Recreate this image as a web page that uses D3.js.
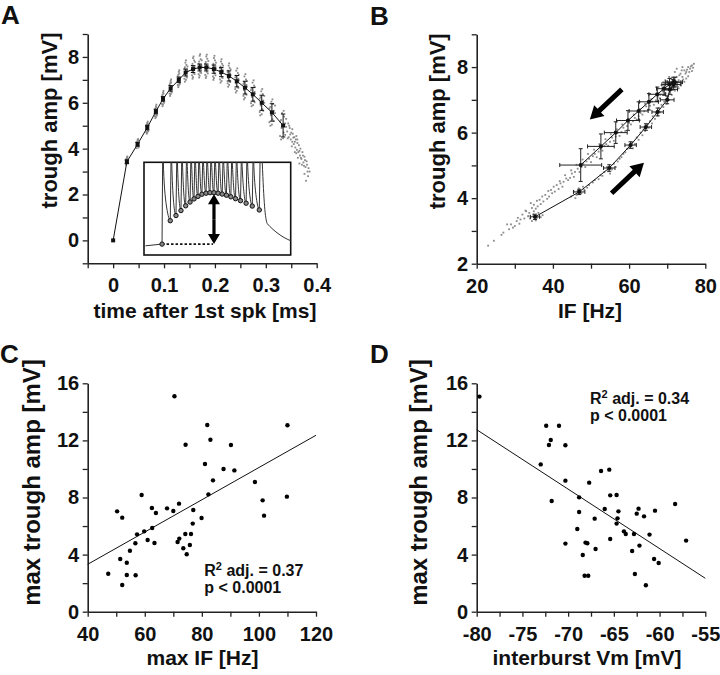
<!DOCTYPE html>
<html><head><meta charset="utf-8">
<script src="https://cdn.jsdelivr.net/npm/d3@7"></script>
<style>
body{margin:0;background:#fff}
svg{display:block}
text{font-family:"Liberation Sans",Arial,Helvetica,sans-serif;font-weight:bold;fill:#111}
</style>
</head><body>
<svg id="chart" width="720" height="675"></svg>
<script>
// ---------------- DATA ----------------
// Panel A / B: mean trough amplitude per trough (time-ordered)
const firstSpikeTime = 0, firstSpikeAmp = 0;
const troughTime = [0.027,0.048,0.067,0.084,0.098,0.113,0.129,0.1425,0.157,0.170,0.183,0.198,0.2125,0.2275,0.243,0.259,0.2745,0.292,0.312,0.334];
const troughAmp  = [3.43,4.19,4.92,5.62,6.17,6.63,7.00,7.32,7.47,7.54,7.54,7.47,7.34,7.17,6.94,6.66,6.37,6.00,5.58,5.01];
const troughAmpErr = [0.08,0.08,0.10,0.10,0.10,0.12,0.12,0.15,0.15,0.15,0.15,0.18,0.20,0.22,0.25,0.28,0.30,0.33,0.38,0.50];
const troughIF   = [35.3,46.9,54.8,60.4,64.4,67.5,70.0,70.7,71.6,72.0,71.6,70.6,69.2,67.4,65.2,62.5,59.7,56.5,52.6,47.3];
const troughIFErr = [1.2,1.5,1.5,1.5,1.5,1.5,1.8,2.0,2.0,2.0,2.0,2.0,2.0,2.2,2.5,2.5,3.0,3.0,3.5,5.5];

// individual cell points (grey clouds), [time, amp]
const cloudA = [
[0.025,3.30],[0.026,3.55],[0.027,3.62],[0.028,3.38],[0.029,3.48],[0.026,3.40],[0.028,3.58],[0.027,3.45],[0.025,3.52],[0.029,3.35],[0.028,3.66],
[0.046,4.02],[0.047,4.30],[0.048,4.38],[0.049,4.10],[0.050,4.25],[0.047,4.12],[0.049,4.35],[0.048,4.18],[0.046,4.28],[0.050,4.05],[0.049,4.42],
[0.065,4.72],[0.066,5.05],[0.067,5.12],[0.068,4.80],[0.069,4.98],[0.066,4.85],[0.068,5.08],[0.067,4.70],[0.067,4.92],[0.065,5.00],[0.069,4.76],[0.068,5.18],[0.066,4.65],
[0.082,5.42],[0.083,5.75],[0.084,5.85],[0.085,5.50],[0.086,5.68],[0.083,5.55],[0.085,5.80],[0.084,5.38],[0.084,5.62],[0.082,5.70],[0.086,5.45],[0.085,5.92],[0.083,5.33],
[0.096,5.95],[0.097,6.35],[0.098,6.45],[0.099,6.05],[0.100,6.25],[0.097,6.10],[0.099,6.40],[0.098,5.92],[0.098,6.18],[0.096,6.28],[0.100,6.00],[0.099,6.52],[0.097,5.85],
[0.111,6.40],[0.112,6.85],[0.113,6.95],[0.114,6.50],[0.115,6.72],[0.112,6.58],[0.114,6.88],[0.113,6.38],[0.113,6.62],[0.111,6.78],[0.115,6.45],[0.114,7.02],[0.112,6.30],
[0.127,6.78],[0.128,7.22],[0.129,7.35],[0.130,6.88],[0.131,7.10],[0.128,6.95],[0.130,7.28],[0.129,6.75],[0.129,7.02],[0.127,7.15],[0.131,6.82],[0.130,7.42],[0.128,6.68],
[0.140,7.05],[0.141,7.55],[0.142,7.75],[0.144,7.15],[0.145,7.45],[0.141,7.25],[0.144,7.65],[0.143,7.00],[0.146,7.38],[0.142,7.32],[0.140,7.48],[0.145,7.10],[0.143,7.85],[0.141,6.92],[0.146,7.58],
[0.155,7.20],[0.156,7.70],[0.157,7.95],[0.158,7.30],[0.160,7.60],[0.156,7.40],[0.159,7.85],[0.157,7.12],[0.161,7.50],[0.157,7.48],[0.155,7.62],[0.160,7.25],[0.158,8.02],[0.156,7.05],[0.161,7.78],
[0.168,7.25],[0.169,7.80],[0.170,8.05],[0.171,7.35],[0.173,7.65],[0.169,7.45],[0.172,7.90],[0.170,7.18],[0.174,7.58],[0.170,7.55],[0.168,7.70],[0.173,7.30],[0.171,8.12],[0.169,7.10],[0.174,7.85],
[0.181,7.22],[0.182,7.78],[0.183,8.02],[0.184,7.35],[0.186,7.62],[0.182,7.45],[0.185,7.92],[0.183,7.15],[0.187,7.55],[0.183,7.55],[0.181,7.70],[0.186,7.28],[0.184,8.10],[0.182,7.08],[0.187,7.82],
[0.196,7.15],[0.197,7.70],[0.198,7.95],[0.199,7.28],[0.201,7.58],[0.197,7.38],[0.200,7.85],[0.198,7.08],[0.202,7.50],[0.198,7.48],[0.196,7.62],[0.201,7.20],[0.199,8.05],[0.197,7.00],[0.202,7.75],
[0.210,7.02],[0.211,7.58],[0.212,7.80],[0.214,7.12],[0.215,7.45],[0.211,7.25],[0.214,7.70],[0.213,6.95],[0.216,7.38],[0.212,7.35],[0.210,7.50],[0.215,7.08],[0.213,7.90],[0.211,6.88],[0.216,7.62],
[0.225,6.85],[0.226,7.40],[0.227,7.62],[0.229,6.95],[0.230,7.28],[0.226,7.08],[0.229,7.52],[0.228,6.78],[0.231,7.20],[0.227,7.18],[0.225,7.32],[0.230,6.90],[0.228,7.72],[0.226,6.70],[0.231,7.45],
[0.240,6.60],[0.241,7.18],[0.242,7.40],[0.244,6.72],[0.246,7.05],[0.241,6.85],[0.245,7.30],[0.243,6.52],[0.247,6.98],[0.243,6.95],[0.240,7.10],[0.246,6.65],[0.244,7.50],[0.241,6.45],[0.247,7.22],
[0.256,6.30],[0.257,6.90],[0.258,7.15],[0.260,6.42],[0.262,6.78],[0.257,6.55],[0.261,7.02],[0.259,6.22],[0.263,6.70],[0.259,6.66],[0.256,6.82],[0.262,6.35],[0.260,7.25],[0.257,6.15],[0.263,6.95],
[0.271,5.98],[0.272,6.62],[0.274,6.88],[0.276,6.10],[0.278,6.48],[0.273,6.25],[0.277,6.75],[0.275,5.90],[0.279,6.40],[0.274,6.38],[0.271,6.55],[0.278,6.02],[0.276,6.98],[0.272,5.85],[0.279,6.68],
[0.288,5.60],[0.290,6.25],[0.291,6.50],[0.293,5.72],[0.295,6.10],[0.290,5.88],[0.294,6.38],[0.292,5.50],[0.297,6.00],[0.292,6.02],[0.288,6.18],[0.295,5.65],[0.293,6.60],[0.289,5.45],[0.297,6.30],
[0.307,5.15],[0.309,5.82],[0.311,6.05],[0.313,5.28],[0.316,5.65],[0.310,5.45],[0.314,5.95],[0.312,5.05],[0.318,5.55],[0.312,5.60],[0.307,5.75],[0.316,5.20],[0.313,6.15],[0.309,5.00],[0.318,5.88],
[0.328,4.55],[0.330,5.25],[0.332,5.55],[0.335,4.70],[0.338,5.10],[0.331,4.90],[0.336,5.40],[0.334,4.45],[0.340,4.95],[0.334,5.02],[0.328,5.18],[0.338,4.60],[0.335,5.65],[0.330,4.40],[0.340,5.30],
[0.342,4.75],[0.344,5.10],[0.345,4.50],[0.347,4.90],[0.349,4.40],[0.350,4.70],[0.352,4.30],[0.353,4.65],[0.355,4.20],
[0.356,4.50],[0.358,4.05],[0.359,4.40],[0.361,3.95],[0.362,4.25],[0.364,3.85],[0.365,4.15],[0.367,3.70],[0.368,4.00],
[0.370,3.55],[0.372,3.85],[0.374,3.40],[0.376,3.65],[0.378,3.20],[0.380,3.45],[0.382,3.00],[0.379,2.60],[0.384,3.15],
[0.371,3.30],[0.363,3.60],[0.357,3.85],
[0.343,4.45],[0.346,5.00],[0.348,4.62],[0.351,4.10],[0.354,4.48],[0.357,4.30],[0.360,3.80],[0.362,4.40],[0.366,3.90],
[0.369,3.60],[0.373,3.70],[0.375,3.25],[0.377,3.50],[0.381,3.30],[0.383,2.80],[0.386,3.00],[0.376,2.90],[0.366,3.35],
[0.352,4.85],[0.360,4.55]
];
// individual points, [IF, amp]
const cloudB = [
[34.0,3.38],[34.8,3.50],[35.5,3.32],[36.2,3.55],[36.8,3.42],[35.0,3.60],[37.3,3.48],[33.6,3.45],[35.8,3.40],[34.5,3.30],
[44.8,4.05],[45.5,4.20],[46.2,4.10],[46.8,4.30],[47.5,4.15],[48.2,4.25],[45.9,4.00],[47.9,4.35],[46.5,4.22],
[49.5,4.40],[51.0,4.55],[52.5,4.70],[53.5,4.80],[54.2,4.95],[55.5,4.88],[56.0,5.05],[55.0,4.75],
[57.5,5.20],[58.5,5.35],[59.5,5.50],[60.8,5.70],[61.5,5.65],[62.0,5.85],[63.0,6.00],[63.8,6.10],[64.8,6.25],[65.5,6.35],
[66.2,6.50],[67.0,6.60],[67.8,6.75],[68.5,6.85],[69.2,6.95],[70.2,7.10],[70.8,7.25],[71.5,7.40],
[49.0,4.32],[50.5,4.48],[52.0,4.58],[53.0,4.68],[54.5,4.82],[56.5,4.95],[57.0,5.12],[58.0,5.25],[59.0,5.40],[60.0,5.55],
[61.0,5.52],[62.5,5.78],[63.5,5.92],[64.2,6.05],[65.2,6.15],[66.0,6.28],[66.8,6.42],[67.5,6.52],[68.2,6.62],[69.0,6.78],
[69.8,6.88],[70.5,7.00],[71.2,7.15],[72.0,7.28],[72.8,7.40],
[23.0,2.55],[26.5,2.88],[28.5,3.05],[29.0,3.20],[30.0,3.15],[30.5,3.30],[31.5,3.35],[32.0,3.50],[33.0,3.60],[33.5,3.45],
[34.5,3.70],[35.0,3.80],[36.0,3.75],[36.5,3.95],[37.5,3.90],[38.0,4.10],[39.0,4.05],[39.5,4.25],[40.5,4.20],[41.0,4.40],
[42.0,4.45],[42.5,4.35],[43.5,4.60],[44.0,4.55],[45.0,4.75],[45.5,4.65],[46.5,4.90],[47.0,4.80],[48.0,5.05],[48.5,4.95],
[49.5,5.20],[50.0,5.10],[51.0,5.35],[51.5,5.25],[52.5,5.50],[53.0,5.45],[54.0,5.65],[54.5,5.60],[55.5,5.85],[56.0,5.75],
[57.0,6.00],[57.5,5.90],[58.5,6.15],[59.0,6.05],[60.0,6.30],[60.5,6.25],[61.5,6.45],[62.0,6.40],[63.0,6.60],[63.5,6.55],
[64.5,6.80],[65.0,6.70],[66.0,6.95],[66.5,6.85],[67.5,7.10],[68.0,7.05],[69.0,7.25],[69.5,7.20],[70.5,7.45],[71.0,7.35],
[24.5,2.70],[27.0,2.95],[28.0,3.20],[29.5,3.10],[30.8,3.40],[31.2,3.22],[32.5,3.38],[32.8,3.62],[33.8,3.55],[34.2,3.85],
[35.5,3.68],[35.8,3.92],[36.8,3.82],[37.2,4.05],[38.5,3.98],[38.8,4.22],[39.8,4.15],[40.2,4.35],[41.5,4.28],[41.8,4.52],
[42.8,4.50],[43.2,4.70],[44.5,4.62],[44.8,4.85],[45.8,4.80],[46.2,5.02],[47.5,4.95],[47.8,5.18],[48.8,5.12],[49.2,5.35],
[50.5,5.28],[50.8,5.48],[52.0,5.42],[52.2,5.65],[53.5,5.60],[53.8,5.80],[55.0,5.72],[55.2,5.95],[56.5,5.88],[56.8,6.10],
[58.0,6.02],[58.2,6.25],[59.5,6.20],[59.8,6.42],[61.0,6.35],[61.2,6.55],[62.5,6.50],[62.8,6.72],[64.0,6.65],[64.2,6.88],
[65.5,6.82],[65.8,7.02],[67.0,6.98],[67.2,7.18],[68.2,7.15],[68.8,7.35],[69.8,7.30],[70.2,7.55],
[70.0,7.55],[71.0,7.65],[72.0,7.50],[72.5,7.70],[73.0,7.60],[73.5,7.80],[74.0,7.70],[74.5,7.90],[75.0,7.85],[75.5,8.00],
[76.0,7.95],[76.5,8.05],[77.0,8.10],[73.5,7.45],[74.5,7.55],[72.0,7.85],[71.5,7.30],[73.0,7.35],[75.0,7.65],[70.5,7.70],
[68.5,7.45],[69.5,7.60],[72.5,7.95],[74.0,8.00],
[71.8,7.60],[72.8,7.55],[73.2,7.75],[74.2,7.62],[74.8,7.80],[75.2,7.92],[75.8,7.85],[76.2,8.02],[76.8,7.98],[73.8,7.90],
[72.2,7.42],[70.8,7.48],[73.8,7.52],[75.5,7.72],[76.5,7.88]
];

// inset (burst trace) – relative time units 0..100, amplitude in mV
const insetTroughT = [17.9,21.8,25.2,28.4,31.4,34.1,36.8,39.5,42.3,45.0,47.7,50.5,53.3,56.2,59.2,62.4,65.8,69.6,73.8,78.6];
const insetBaseline = [[1,-0.25],[12.3,0]];
const insetTail = [[80.6,12],[81.8,6],[82.5,3.8],[84,3.0],[89,1.8],[95,0.9],[100,0.5]];

// Panel C: max IF vs max trough amp
const maxIF = [70.4,81.9,110.0,83.0,74.3,90.2,81.1,87.6,91.4,83.9,98.6,58.9,82.3,109.8,101.3,50.3,62.5,67.8,72.0,70.0,63.9,77.0,52.1,101.8,79.9,76.8,59.8,57.3,62.6,74.2,76.2,61.0,72.1,56.7,63.4,71.5,75.8,73.5,74.7,54.8,51.4,53.7,47.2,53.7,56.8,52.1];
const maxAmpC = [15.09,13.08,13.06,12.05,11.70,11.68,10.35,10.0,9.90,9.20,9.09,8.18,8.22,8.06,7.80,7.03,7.26,7.24,7.57,7.05,6.91,7.12,6.59,6.73,6.56,6.17,5.63,5.42,5.86,5.44,5.44,5.02,5.12,4.79,4.81,4.88,4.67,4.44,4.02,4.27,3.69,3.43,2.66,2.57,2.55,1.87];
const fitC = [[40,3.32],[120,12.36]];
const statsC = ["adj. = 0.37","p < 0.0001"];

// Panel D: interburst Vm vs max trough amp
const interVm = [-79.7,-72.4,-71.0,-71.9,-72.1,-70.3,-73.0,-66.4,-65.5,-70.3,-67.7,-65.4,-64.7,-68.8,-58.3,-71.8,-66.0,-62.3,-60.5,-64.5,-68.8,-62.5,-61.7,-67.1,-64.6,-64.7,-69.0,-63.9,-63.7,-61.1,-62.8,-65.4,-57.1,-70.3,-68.1,-67.9,-62.2,-67.0,-63.0,-68.4,-60.6,-60.1,-62.7,-68.2,-67.8,-61.5];
const maxAmpD = [15.07,13.03,13.03,12.03,11.68,11.66,10.32,9.86,9.95,9.18,9.04,8.15,8.18,8.01,7.54,7.76,7.19,7.22,7.08,7.03,6.98,6.87,6.68,6.52,6.54,6.17,5.79,5.63,5.44,5.40,5.44,5.09,4.98,4.77,4.84,4.79,4.63,4.39,4.25,3.97,3.69,3.41,2.64,2.52,2.52,1.85];
const fitD = [[-80,12.75],[-55,2.34]];
const statsD = ["adj. = 0.34","p < 0.0001"];

// axis ticks / labels
const aXTicks = [-0.05,0,0.05,0.1,0.15,0.2,0.25,0.3,0.35,0.4];
const aXLabels = ["","0","","0.1","","0.2","","0.3","","0.4"];
const aYTicks = [-1,0,1,2,3,4,5,6,7,8,9];
const aYLabels = ["","0","","2","","4","","6","","8",""];
const bXTicks = [20,30,40,50,60,70,80];
const bXLabels = ["20","","40","","60","","80"];
const bYTicks = [2,3,4,5,6,7,8,9];
const bYLabels = ["2","","4","","6","","8",""];
const cXTicks = [40,50,60,70,80,90,100,110,120];
const cXLabels = ["40","","60","","80","","100","","120"];
const cdYTicks = [0,2,4,6,8,10,12,14,16];
const cdYLabels = ["0","","4","","8","","12","","16"];
const dXTicks = [-80,-77.5,-75,-72.5,-70,-67.5,-65,-62.5,-60,-57.5,-55];
const dXLabels = ["-80","","-75","","-70","","-65","","-60","","-55"];

// ---------------- DRAW ----------------
const svg = d3.select("#chart");
const AX = "#222";
const CLOUD = "#8a8a8a";

function axes(x, y, xt, xl, yt, yl) {
  const gx = svg.append("g").attr("transform", `translate(0,${y.range()[0]})`)
    .call(d3.axisBottom(x).tickValues(xt).tickFormat((d,i)=>xl[i]).tickSize(5).tickSizeOuter(0).tickPadding(10));
  const gy = svg.append("g").attr("transform", `translate(${x.range()[0]},0)`)
    .call(d3.axisLeft(y).tickValues(yt).tickFormat((d,i)=>yl[i]).tickSize(5).tickSizeOuter(0).tickPadding(3.5));
  [gx, gy].forEach(g => {
    g.selectAll("path.domain").attr("stroke", AX).attr("stroke-width", 1.6);
    g.selectAll(".tick line").attr("stroke", AX).attr("stroke-width", 1.3);
    g.selectAll(".tick text").attr("font-size", 20).attr("fill", "#111")
      .attr("font-family", '"Liberation Sans",Arial,sans-serif').attr("font-weight", "bold");
  });
}
function yTitle(txt, cx, cy, fs) {
  svg.append("text").attr("transform", "rotate(-90)").attr("x", -cy).attr("y", cx)
    .attr("text-anchor", "middle").attr("font-size", fs).text(txt);
}
function xTitle(txt, cx, by) {
  svg.append("text").attr("x", cx).attr("y", by).attr("text-anchor", "middle").attr("font-size", 21).text(txt);
}
function panelLabel(txt, x, y) {
  svg.append("text").attr("x", x).attr("y", y).attr("font-size", 26).text(txt);
}
function arrowPath(x1, y1, x2, y2, shaft, headW, headL) {
  const dx = x2-x1, dy = y2-y1, L = Math.hypot(dx,dy), ux = dx/L, uy = dy/L, nx = -uy, ny = ux;
  const bx = x2 - ux*headL, by = y2 - uy*headL;
  const p = [
    [x1+nx*shaft/2, y1+ny*shaft/2],[bx+nx*shaft/2, by+ny*shaft/2],[bx+nx*headW/2, by+ny*headW/2],
    [x2,y2],[bx-nx*headW/2, by-ny*headW/2],[bx-nx*shaft/2, by-ny*shaft/2],[x1-nx*shaft/2, y1-ny*shaft/2]];
  return "M" + p.map(q=>q.join(",")).join("L") + "Z";
}

// ===== Panel A =====
const xA = d3.scaleLinear().domain([-0.05,0.4]).range([87.7,316.7]);
const yA = d3.scaleLinear().domain([-1,9]).range([263.3,34]);
axes(xA, yA, aXTicks, aXLabels, aYTicks, aYLabels);
svg.append("g").selectAll("rect").data(cloudA).join("rect")
  .attr("x", d=>xA(d[0])-0.9).attr("y", d=>yA(d[1])-0.9).attr("width",1.8).attr("height",1.8).attr("fill",CLOUD);
const meanA = [[firstSpikeTime, firstSpikeAmp]].concat(troughTime.map((t,i)=>[t, troughAmp[i]]));
svg.append("path").datum(meanA).attr("fill","none").attr("stroke","#111").attr("stroke-width",1)
  .attr("d", d3.line().x(d=>xA(d[0])).y(d=>yA(d[1])));
const ebA = svg.append("g").attr("stroke","#111").attr("stroke-width",1);
troughTime.forEach((t,i)=>{
  const x = xA(t), y1 = yA(troughAmp[i]-troughAmpErr[i]), y2 = yA(troughAmp[i]+troughAmpErr[i]);
  ebA.append("line").attr("x1",x).attr("x2",x).attr("y1",y1).attr("y2",y2);
  ebA.append("line").attr("x1",x-2.2).attr("x2",x+2.2).attr("y1",y1).attr("y2",y1);
  ebA.append("line").attr("x1",x-2.2).attr("x2",x+2.2).attr("y1",y2).attr("y2",y2);
});
svg.append("g").selectAll("rect").data(meanA).join("rect")
  .attr("x", d=>xA(d[0])-2).attr("y", d=>yA(d[1])-2).attr("width",4).attr("height",4).attr("fill","#111");

// inset
const xI = d3.scaleLinear().domain([0,100]).range([144,290.7]);
const yI = d3.scaleLinear().domain([-1.6,12]).range([255,162.3]);
svg.append("rect").attr("x",xI(0)).attr("y",yI(12)).attr("width",xI(100)-xI(0)).attr("height",yI(-1.6)-yI(12))
  .attr("fill","#fff").attr("stroke","#111").attr("stroke-width",1.6);
const gI = svg.append("g");
let dTrace = `M${xI(insetBaseline[0][0])},${yI(insetBaseline[0][1])}L${xI(insetBaseline[1][0])},${yI(insetBaseline[1][1])}`;
let sp = insetBaseline[1][0] + 0.4;
dTrace += `L${xI(sp)},${yI(12)}`;
insetTroughT.forEach((t,i)=>{
  const a = troughAmp[i];
  dTrace += `M${xI(sp+0.5)},${yI(12)}C${xI(sp+1.1)},${yI(a+2.5)} ${xI(t-1.0)},${yI(a)} ${xI(t)},${yI(a)}`;
  sp = t + 0.5;
  dTrace += `L${xI(sp)},${yI(12)}`;
});
const tl = insetTail.map(p=>[xI(p[0]),yI(p[1])]);
dTrace += `M${tl[0]}C${tl[1]} ${tl[2]} ${tl[3]}C${tl[4]} ${tl[5]} ${tl[6]}`;
gI.append("path").attr("d", dTrace).attr("fill","none").attr("stroke","#333").attr("stroke-width",1);
const peakIdx = 10;
gI.append("line").attr("x1",xI(insetBaseline[1][0])).attr("x2",xI(insetTroughT[peakIdx])-1)
  .attr("y1",yI(0)).attr("y2",yI(0)).attr("stroke","#111").attr("stroke-width",1.6).attr("stroke-dasharray","2.5,2");
gI.selectAll("circle").data([[insetBaseline[1][0],0]].concat(insetTroughT.map((t,i)=>[t,troughAmp[i]]))).join("circle")
  .attr("cx",d=>xI(d[0])).attr("cy",d=>yI(d[1])).attr("r",2.2).attr("fill","#888").attr("stroke","#111").attr("stroke-width",1);
{
  const ax = xI(insetTroughT[peakIdx]), ay1 = yI(0), ay2 = yI(troughAmp[peakIdx]) + 1.5, mid = (ay1+ay2)/2;
  gI.append("path").attr("d", arrowPath(ax, mid, ax, ay2, 3.2, 12, 10)).attr("fill","#000");
  gI.append("path").attr("d", arrowPath(ax, mid, ax, ay1, 3.2, 12, 10)).attr("fill","#000");
}
yTitle("trough amp [mV]", 57.4, 120.5, 22);
xTitle("time after 1st spk [ms]", 205, 317.5);
panelLabel("A", 1, 24);

// ===== Panel B =====
const xB = d3.scaleLinear().domain([20,80]).range([476.7,705.3]);
const yB = d3.scaleLinear().domain([2,9]).range([263.7,34.3]);
axes(xB, yB, bXTicks, bXLabels, bYTicks, bYLabels);
svg.append("g").selectAll("rect").data(cloudB).join("rect")
  .attr("x", d=>xB(d[0])-0.9).attr("y", d=>yB(d[1])-0.9).attr("width",1.8).attr("height",1.8).attr("fill",CLOUD);
const meanB = troughIF.map((f,i)=>[f, troughAmp[i], troughIFErr[i], troughAmpErr[i]]);
svg.append("path").datum(meanB).attr("fill","none").attr("stroke","#111").attr("stroke-width",1)
  .attr("d", d3.line().x(d=>xB(d[0])).y(d=>yB(d[1])));
const ebB = svg.append("g").attr("stroke","#222").attr("stroke-width",1);
meanB.forEach(d=>{
  const x = xB(d[0]), y = yB(d[1]);
  const x1 = xB(d[0]-d[2]), x2 = xB(d[0]+d[2]), y1 = yB(d[1]-d[3]), y2 = yB(d[1]+d[3]);
  ebB.append("line").attr("x1",x1).attr("x2",x2).attr("y1",y).attr("y2",y);
  ebB.append("line").attr("x1",x1).attr("x2",x1).attr("y1",y-2).attr("y2",y+2);
  ebB.append("line").attr("x1",x2).attr("x2",x2).attr("y1",y-2).attr("y2",y+2);
  ebB.append("line").attr("x1",x).attr("x2",x).attr("y1",y1).attr("y2",y2);
  ebB.append("line").attr("x1",x-2).attr("x2",x+2).attr("y1",y1).attr("y2",y1);
  ebB.append("line").attr("x1",x-2).attr("x2",x+2).attr("y1",y2).attr("y2",y2);
});
svg.append("g").selectAll("circle").data(meanB).join("circle")
  .attr("cx", d=>xB(d[0])).attr("cy", d=>yB(d[1])).attr("r",2.1).attr("fill","#111");
const arrowsB = [[[58.1,7.32],[49.7,6.40]],[[55.4,4.15],[63.9,5.08]]];
arrowsB.forEach(a=>{
  svg.append("path").attr("d", arrowPath(xB(a[0][0]),yB(a[0][1]),xB(a[1][0]),yB(a[1][1]),5,15,13)).attr("fill","#000");
});
yTitle("trough amp [mV]", 444.7, 121.3, 22);
xTitle("IF [Hz]", 590, 317.5);
panelLabel("B", 370, 25);

// ===== Panel C =====
const xC = d3.scaleLinear().domain([40,120]).range([87.7,316]);
const yC = d3.scaleLinear().domain([0,16]).range([611.7,383.3]);
axes(xC, yC, cXTicks, cXLabels, cdYTicks, cdYLabels);
svg.append("path").datum(fitC).attr("stroke","#111").attr("stroke-width",1).attr("fill","none")
  .attr("d", d3.line().x(d=>xC(d[0])).y(d=>yC(d[1])));
svg.append("g").selectAll("circle").data(maxIF.map((v,i)=>[v,maxAmpC[i]])).join("circle")
  .attr("cx", d=>xC(d[0])).attr("cy", d=>yC(d[1])).attr("r",2.2).attr("fill","#000");
function stats(lines, x, y) {
  const t = svg.append("text").attr("x", x).attr("y", y).attr("font-size", 16);
  t.append("tspan").text("R");
  t.append("tspan").attr("font-size", 11).attr("dy", -6).text("2");
  t.append("tspan").attr("dy", 6).text(" " + lines[0]);
  svg.append("text").attr("x", x).attr("y", y + 17).attr("font-size", 16).text(lines[1]);
}
stats(statsC, 204.3, 575.7);
yTitle("max trough amp [mV]", 40, 482.5, 24);
xTitle("max IF [Hz]", 202.5, 664.5);
panelLabel("C", 0, 363);

// ===== Panel D =====
const xD = d3.scaleLinear().domain([-80,-55]).range([476.7,705.3]);
const yD = d3.scaleLinear().domain([0,16]).range([611.7,383.3]);
axes(xD, yD, dXTicks, dXLabels, cdYTicks, cdYLabels);
svg.append("path").datum(fitD).attr("stroke","#111").attr("stroke-width",1).attr("fill","none")
  .attr("d", d3.line().x(d=>xD(d[0])).y(d=>yD(d[1])));
svg.append("g").selectAll("circle").data(interVm.map((v,i)=>[v,maxAmpD[i]])).join("circle")
  .attr("cx", d=>xD(d[0])).attr("cy", d=>yD(d[1])).attr("r",2.2).attr("fill","#000");
stats(statsD, 590, 404);
yTitle("max trough amp [mV]", 426.7, 482.5, 24);
xTitle("interburst Vm [mV]", 587, 664.5);
panelLabel("D", 370, 363);
</script>
</body></html>
